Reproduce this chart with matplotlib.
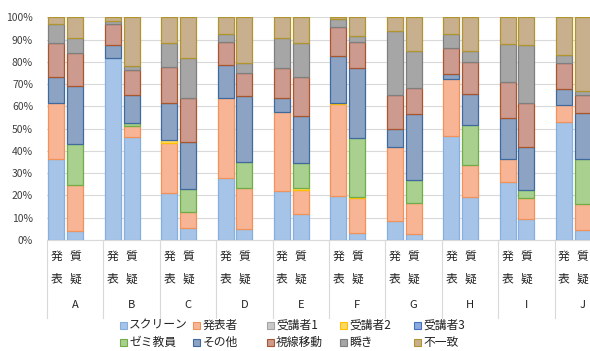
import numpy as np
import matplotlib
matplotlib.use('Agg')
import matplotlib.pyplot as plt
from matplotlib.patches import Rectangle
import matplotlib.transforms as mtransforms

plt.rcParams['font.family'] = ['Noto Sans CJK JP', 'DejaVu Sans']

groups = ['A', 'B', 'C', 'D', 'E', 'F', 'G', 'H', 'I', 'J']
sub_labels = ['発\n表', '質\n疑']

series_names = ['スクリーン', '発表者', '受講者1', '受講者2', '受講者3',
                'ゼミ教員', 'その他', '視線移動', '瞬き', '不一致']

# values per bar: A発表, A質疑, B発表, B質疑, ... J発表, J質疑  (percent)
screen    = [36.4, 4.2, 81.6, 46.4, 21.0, 5.5, 27.7, 4.8, 22.0, 11.5,
             19.9, 3.3, 8.7, 2.7, 46.9, 19.2, 26.0, 9.3, 52.8, 4.5]
presenter = [25.3, 20.5, 0.0, 4.8, 22.7, 6.9, 36.2, 18.7, 35.6, 11.0,
             41.2, 15.4, 33.2, 14.1, 25.6, 14.5, 10.4, 9.4, 7.7, 11.7]
aud1      = [0.0] * 20
aud2      = [0.0, 0.0, 0.0, 0.0, 1.2, 0.0, 0.0, 0.0, 0.0, 1.0,
             0.3, 0.5, 0.0, 0.0, 0.0, 0.0, 0.0, 0.3, 0.0, 0.0]
aud3      = [0.0] * 20
seminar   = [0.0, 18.4, 0.0, 1.2, 0.0, 10.4, 0.0, 11.5, 0.0, 10.9,
             0.0, 26.8, 0.0, 10.1, 0.0, 17.9, 0.0, 3.5, 0.0, 20.2]
other     = [11.4, 26.1, 6.0, 12.6, 16.8, 21.4, 14.7, 29.7, 6.3, 21.3,
             21.2, 31.4, 7.8, 29.5, 2.1, 13.8, 18.5, 19.4, 7.2, 20.5]
gaze_move = [15.2, 14.9, 9.3, 11.3, 16.1, 19.7, 10.2, 10.4, 13.2, 17.7,
             13.2, 11.7, 15.3, 11.9, 11.5, 14.5, 16.1, 19.5, 11.6, 8.1]
blink     = [8.6, 6.8, 1.6, 1.7, 10.5, 18.0, 3.6, 4.2, 13.5, 15.2,
             3.3, 2.7, 28.9, 16.6, 6.3, 5.1, 16.9, 26.2, 3.6, 2.1]
mismatch  = [3.1, 9.1, 1.5, 22.0, 11.7, 18.1, 7.6, 20.7, 9.4, 11.4,
             0.9, 8.2, 6.1, 15.1, 7.6, 15.0, 12.1, 12.4, 17.1, 32.9]

all_series = [screen, presenter, aud1, aud2, aud3, seminar, other,
              gaze_move, blink, mismatch]

fills = ['#A6C4E8', '#F7B595', '#C9C9C9', '#FFD966', '#8FAADC',
         '#A9D08E', '#8DA3C4', '#CC9A8E', '#A6A6A6', '#C8B08F']
edges = ['#86AEDE', '#F0925A', '#A5A5A5', '#FFC000', '#4472C4',
         '#70AD47', '#3F6A9E', '#A8562E', '#7F7F7F', '#B0952E']

W, H = 590, 351
fig = plt.figure(figsize=(W / 100, H / 100), dpi=100)
# plot area runs past the right edge like the original screenshot
ax = fig.add_axes([47 / W, (H - 240) / H, 564 / W, 222.7 / H])

data = np.array(all_series, dtype=float)
data = data / data.sum(axis=0) * 100

x = np.array([3 * g + k for g in range(len(groups)) for k in range(2)])
bottom = np.zeros(len(x))
for i, vals in enumerate(data):
    lw = np.where(vals > 0, 0.9, 0)
    ax.bar(x, vals, bottom=bottom, width=0.85, color=fills[i],
           edgecolor=edges[i], linewidth=lw, zorder=3)
    bottom += vals

ax.set_xlim(-0.5, 29.5)
ax.set_ylim(0, 100)
ax.set_yticks(np.arange(0, 101, 10))
ax.set_yticklabels([f'{v}%' for v in range(0, 101, 10)], fontsize=7.5,
                   color='#404040')
ax.tick_params(axis='y', length=0, pad=10)
ax.set_xticks([])
ax.grid(axis='y', color='#D9D9D9', linewidth=0.8, zorder=0)
for s in ['top', 'right', 'left']:
    ax.spines[s].set_visible(False)
ax.spines['bottom'].set_color('#D9D9D9')

trans = mtransforms.blended_transform_factory(ax.transData, ax.transAxes)
for g, name in enumerate(groups):
    ax.plot([3 * g - 0.5, 3 * g - 0.5], [0, -0.35], color='#D9D9D9',
            linewidth=0.8, transform=trans, clip_on=False)
    for k in range(2):
        ax.text(3 * g + k, -0.125, sub_labels[k], transform=trans,
                ha='center', va='center', fontsize=8.5, linespacing=1.9,
                color='#222222')
    ax.text(3 * g + 1, -0.29, name, transform=trans, ha='center',
            va='center', fontsize=8, color='#222222')

# legend, laid out like the spreadsheet one (5 per row)
for i, name in enumerate(series_names):
    row, col = divmod(i, 5)
    cx = 123 + col * 73.5
    cy = 325 + row * 17.5
    fig.patches.append(Rectangle(((cx - 3.5) / W, (H - cy - 3.5) / H),
                                 7 / W, 7 / H, transform=fig.transFigure,
                                 facecolor=fills[i], edgecolor=edges[i],
                                 linewidth=0.8))
    fig.text((cx + 6) / W, (H - cy) / H, name, fontsize=8.5, ha='left',
             va='center', color='#222222')

fig.savefig('out.png', dpi=100)
